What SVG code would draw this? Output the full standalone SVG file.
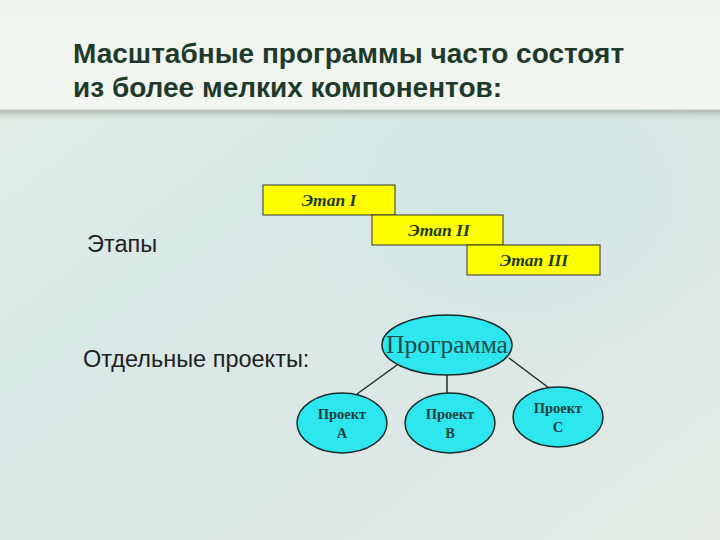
<svg xmlns="http://www.w3.org/2000/svg" width="720" height="540" viewBox="0 0 720 540">
<defs>
<linearGradient id="bg" x1="0" y1="0" x2="1" y2="1">
<stop offset="0" stop-color="#e6efe6"/>
<stop offset="0.35" stop-color="#d9e9e6"/>
<stop offset="0.7" stop-color="#dde8e6"/>
<stop offset="1" stop-color="#e4ece4"/>
</linearGradient>
<linearGradient id="hdr" x1="0" y1="0" x2="0" y2="1">
<stop offset="0" stop-color="#eef3ec"/>
<stop offset="1" stop-color="#f3f7f1"/>
</linearGradient>
<linearGradient id="shadow" x1="0" y1="0" x2="0" y2="1">
<stop offset="0" stop-color="#9aa59c" stop-opacity="0.8"/>
<stop offset="1" stop-color="#c8d4cc" stop-opacity="0"/>
</linearGradient>
<radialGradient id="glow" cx="0.5" cy="0.5" r="0.5">
<stop offset="0" stop-color="#cfe6e4" stop-opacity="0.9"/>
<stop offset="1" stop-color="#cfe6e4" stop-opacity="0"/>
</radialGradient>
</defs>
<style>
.title{font-family:"Liberation Sans",Arial,sans-serif;font-weight:bold;font-size:28px;fill:#1f3a2a}
.lbl{font-family:"Liberation Sans",Arial,sans-serif;fill:#222;font-size:23.5px}
.stage rect{fill:#ffff00;stroke:#333;stroke-width:1}
.stage text{font-family:"Liberation Serif","Times New Roman",serif;font-style:italic;font-weight:bold;font-size:17.5px;fill:#1c3a1c;text-anchor:middle}
.ell{fill:#2ee6ee;stroke:#1a2a2a;stroke-width:1.5}
.prog{font-family:"Liberation Serif","Times New Roman",serif;font-size:25.5px;fill:#1d4a4a;text-anchor:middle}
.proj{font-family:"Liberation Serif","Times New Roman",serif;font-weight:bold;font-size:14.5px;fill:#1d4040;text-anchor:middle}
.conn line{stroke:#1e2e2a;stroke-width:1.5}
</style>
<rect width="720" height="540" fill="url(#bg)"/>
<ellipse cx="520" cy="200" rx="220" ry="160" fill="url(#glow)"/>
<rect width="720" height="110" fill="url(#hdr)"/>
<rect x="0" y="110" width="720" height="10" fill="url(#shadow)"/>
<line x1="0" y1="110" x2="720" y2="110" stroke="#c2ccc4" stroke-width="1"/>
<g id="title">
<text class="title" x="73" y="63">Масштабные программы часто состоят</text>
<text class="title" x="73" y="97">из более мелких компонентов:</text>
</g>
<g id="label-stages"><text class="lbl" x="87" y="252">Этапы</text></g>
<g id="label-projects"><text class="lbl" x="83" y="367">Отдельные проекты:</text></g>
<g id="stage1" class="stage"><rect x="263" y="185" width="132" height="30"/><text x="329" y="206">Этап I</text></g>
<g id="stage2" class="stage"><rect x="372" y="215" width="131" height="30"/><text x="439" y="236">Этап II</text></g>
<g id="stage3" class="stage"><rect x="467" y="245" width="133" height="30"/><text x="534" y="266">Этап III</text></g>
<g id="connectors" class="conn">
<line x1="397" y1="365" x2="357" y2="394"/>
<line x1="447" y1="375" x2="447" y2="393"/>
<line x1="509" y1="358" x2="549" y2="388"/>
</g>
<g id="program"><ellipse class="ell" cx="447" cy="345" rx="65" ry="30"/><text class="prog" x="447" y="353">Программа</text></g>
<g id="projA"><ellipse class="ell" cx="342" cy="423" rx="45" ry="30"/><text class="proj" x="342" y="419">Проект</text><text class="proj" x="342" y="438">А</text></g>
<g id="projB"><ellipse class="ell" cx="450" cy="423" rx="45" ry="30"/><text class="proj" x="450" y="419">Проект</text><text class="proj" x="450" y="438">В</text></g>
<g id="projC"><ellipse class="ell" cx="558" cy="417" rx="45" ry="30"/><text class="proj" x="558" y="413">Проект</text><text class="proj" x="558" y="432">С</text></g>
</svg>
